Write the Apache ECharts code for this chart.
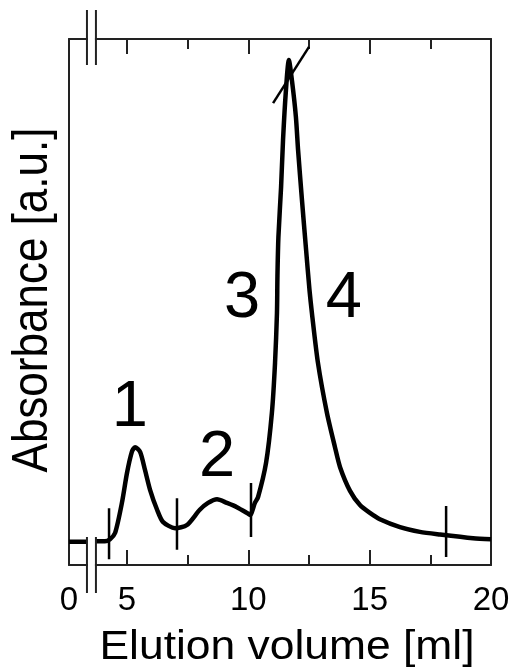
<!DOCTYPE html>
<html>
<head>
<meta charset="utf-8">
<script src="https://cdn.jsdelivr.net/npm/echarts@6/dist/echarts.min.js"></script>
<style>
html, body { margin: 0; padding: 0; background: #fff; }
#chart { width: 515px; height: 669px; }
</style>
</head>
<body>
<div id="chart"></div>
<script>
// elution profile, null = axis break
const volume = [2.61, 3.35, 3.5, 3.72, 4.09, 4.30, 4.51, 4.79, 5.00, 5.20, 5.33, 5.54, 5.74, 5.95, 6.24, 6.48, 6.98, 7.47, 8.00, 8.34, 8.71, 9.12, 9.53, 9.94, 10.07, 10.27, 10.40, 10.73, 10.97, 11.10, 11.18, 11.20, 11.24, 11.35, 11.43, 11.55, 11.67, 11.80, 11.96, 12.05, 12.21, 12.38, 12.52, 12.62, 12.87, 13.24, 13.57, 13.78, 14.19, 14.60, 15.01, 15.42, 16.25, 17.07, 17.90, 19.26, 20.0];
const absorbance = [4.4, 4.4, null, 4.5, 4.5, 4.9, 6.1, 11.8, 17.5, 21.5, 22.4, 21.5, 18.1, 14.3, 10.5, 8.2, 7.0, 7.6, 10.5, 11.8, 12.5, 11.8, 11.0, 9.9, 9.5, 11.8, 12.9, 19.4, 28.9, 38.4, 47.9, 55.0, 62.4, 71.9, 80.8, 90.3, 96.0, 92.0, 85.2, 78.9, 69.4, 59.9, 52.3, 47.9, 38.4, 28.9, 22.4, 18.6, 14.1, 11.4, 9.9, 8.7, 7.2, 6.3, 5.8, 5.1, 4.9];

// fraction borders
const cutX = [4.26, 7.06, 10.11, 18.15];
const cutLow = [1.1, 2.9, 5.3, 1.5];
const cutHigh = [10.8, 12.7, 15.6, 11.2];
// slanted border over the main peak
const slantX = [11.02, 12.5];
const slantY = [87.8, 98.5];

// fraction numbers
const fracNames = ['1', '2', '3', '4'];
const fracX = [5.12, 8.71, 9.74, 13.94];
const fracY = [29.8, 20.3, 50.6, 50.6];

// x axis
const xMin = 2.61, xMax = 20;
const majorTicks = [5, 10, 15];
const minorTicks = [7.5, 12.5, 17.5];
const tickLabels = [xMin, 5, 10, 15, 20];
const breakAt = [3.35, 3.72];

const FRAME = '#222';
const FONT = '"Liberation Sans", Arial, sans-serif';

const chart = echarts.init(document.getElementById('chart'));

function xAxisCfg(pos, ticks, len, showLine, labels) {
  return {
    type: 'value',
    position: pos,
    min: xMin,
    max: xMax,
    axisLine: { show: showLine, onZero: false, lineStyle: { color: FRAME, width: 2 } },
    axisTick: { show: true, inside: true, length: len, customValues: ticks, lineStyle: { color: FRAME, width: 2 } },
    axisLabel: labels ? {
      show: true,
      customValues: labels,
      margin: 19,
      fontFamily: FONT,
      fontSize: 33,
      color: '#000',
      formatter: v => (v < 3 ? '0' : String(v))
    } : { show: false },
    splitLine: { show: false }
  };
}

function yAxisCfg(pos) {
  return {
    type: 'value',
    position: pos,
    min: 0,
    max: 100,
    axisLine: { show: true, onZero: false, lineStyle: { color: FRAME, width: 2 } },
    axisTick: { show: false },
    axisLabel: { show: false },
    splitLine: { show: false }
  };
}

const series = [
  {
    type: 'line',
    data: volume.map((v, i) => [v, absorbance[i] === null ? '-' : absorbance[i]]),
    showSymbol: false,
    smooth: 0.25,
    lineStyle: { color: '#000', width: 4.5 },
    z: 3
  }
];
cutX.forEach((x, i) => {
  series.push({
    type: 'line',
    data: [[x, cutLow[i]], [x, cutHigh[i]]],
    showSymbol: false,
    lineStyle: { color: '#000', width: 2.5 },
    z: 4
  });
});
series.push({
  type: 'line',
  data: slantX.map((x, i) => [x, slantY[i]]),
  showSymbol: false,
  lineStyle: { color: '#000', width: 2.5 },
  z: 4
});
series.push({
  type: 'scatter',
  data: fracX.map((x, i) => ({ value: [x, fracY[i]], name: fracNames[i] })),
  symbolSize: 1,
  itemStyle: { color: 'rgba(0,0,0,0)' },
  label: {
    show: true,
    position: 'inside',
    formatter: p => p.name,
    fontFamily: FONT,
    fontSize: 65,
    color: '#000',
    opacity: 1,
    textBorderWidth: 0
  },
  emphasis: { disabled: true },
  z: 5
});

chart.setOption({
  animation: false,
  backgroundColor: '#fff',
  grid: { left: 69, top: 39, right: 24, bottom: 104 },
  xAxis: [
    xAxisCfg('bottom', majorTicks, 15, true, tickLabels),
    xAxisCfg('bottom', minorTicks, 10, false, null),
    xAxisCfg('top', majorTicks, 15, true, null),
    xAxisCfg('top', minorTicks, 10, false, null)
  ],
  yAxis: [yAxisCfg('left'), yAxisCfg('right')],
  series: series
});

// axis break marks + titles
const gTop = 39, gBottom = 565;
const bx = breakAt.map(v => chart.convertToPixel({ xAxisIndex: 0 }, v));
const graphics = [];
[gTop, gBottom].forEach(y => {
  graphics.push({
    type: 'rect',
    shape: { x: bx[0] + 1, y: y - 3, width: bx[1] - bx[0] - 2, height: 6 },
    style: { fill: '#fff' },
    z: 10
  });
});
bx.forEach(x => {
  graphics.push({ type: 'line', shape: { x1: x, y1: 10, x2: x, y2: 65 }, style: { stroke: FRAME, lineWidth: 2 }, z: 11 });
  graphics.push({ type: 'line', shape: { x1: x, y1: 537, x2: x, y2: 593 }, style: { stroke: FRAME, lineWidth: 2 }, z: 11 });
});
graphics.push({
  type: 'text',
  x: 287,
  y: 648,
  scaleX: 1.11,
  style: { text: 'Elution volume [ml]', font: '40px ' + FONT, fill: '#000', align: 'center', verticalAlign: 'middle' },
  z: 12
});
graphics.push({
  type: 'text',
  x: 33,
  y: 300,
  rotation: Math.PI / 2,
  scaleY: 1.12,
  style: { text: 'Absorbance [a.u.]', font: '44px ' + FONT, fill: '#000', align: 'center', verticalAlign: 'middle' },
  z: 12
});
chart.setOption({ graphic: graphics });
</script>
</body>
</html>
